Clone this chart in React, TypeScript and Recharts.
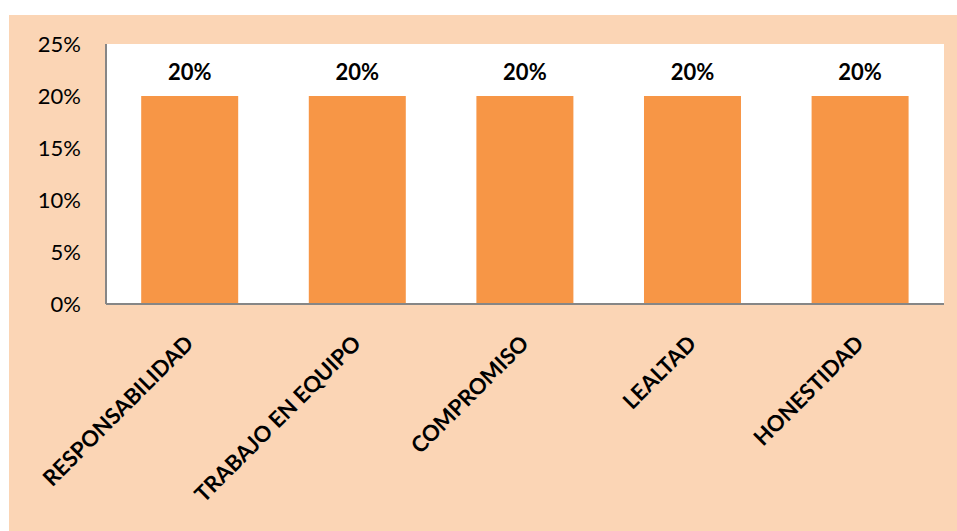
import { BarChart, Bar, XAxis, YAxis, CartesianGrid, LabelList } from "recharts";

const CATEGORIES = ["RESPONSABILIDAD", "TRABAJO EN EQUIPO", "COMPROMISO", "LEALTAD", "HONESTIDAD"];
const VALUES = [0.2, 0.2, 0.2, 0.2, 0.2];
const Y_TICKS = [0, 0.05, 0.1, 0.15, 0.2, 0.25];

const data = CATEGORIES.map((name, i) => ({ name, value: VALUES[i] }));

const pct = (v: number) => `${Math.round(v * 100)}%`;

function CategoryTick(props: any) {
  const { x, y, payload } = props;
  return (
    <text
      transform={`translate(${x + 5},${y + 33}) rotate(-45)`}
      textAnchor="end"
      fontFamily="Lato, sans-serif"
      fontWeight={700}
      fontSize={22}
      fill="#000"
    >
      {payload.value}
    </text>
  );
}

export default function App() {
  return (
    <div style={{ position: "fixed", left: 0, top: 0, width: 957, height: 531, background: "#fff" }}>
      <div style={{ position: "absolute", left: 9, top: 15, width: 948, height: 516, background: "#FBD5B5" }}>
        <BarChart
          width={948}
          height={516}
          data={data}
          margin={{ top: 29, right: 13, bottom: 27, left: 0 }}
          barCategoryGap="21%"
        >
          <CartesianGrid fill="#fff" horizontal={false} vertical={false} />
          <XAxis
            dataKey="name"
            interval={0}
            height={200}
            tickLine={false}
            stroke="#868686"
            strokeWidth={2}
            tick={<CategoryTick />}
          />
          <YAxis
            domain={[0, 0.25]}
            ticks={Y_TICKS}
            tickFormatter={pct}
            width={97}
            tickLine={false}
            tickSize={0}
            tickMargin={25}
            stroke="#868686"
            strokeWidth={2}
            tick={{ fill: "#000", fontSize: 22, fontFamily: "Lato, sans-serif" }}
          />
          <Bar dataKey="value" fill="#F79646" isAnimationActive={false}>
            <LabelList
              dataKey="value"
              position="top"
              offset={16}
              formatter={(v: any) => pct(Number(v))}
              fill="#000"
              fontSize={22}
              fontWeight={700}
              fontFamily="Lato, sans-serif"
            />
          </Bar>
        </BarChart>
      </div>
    </div>
  );
}
